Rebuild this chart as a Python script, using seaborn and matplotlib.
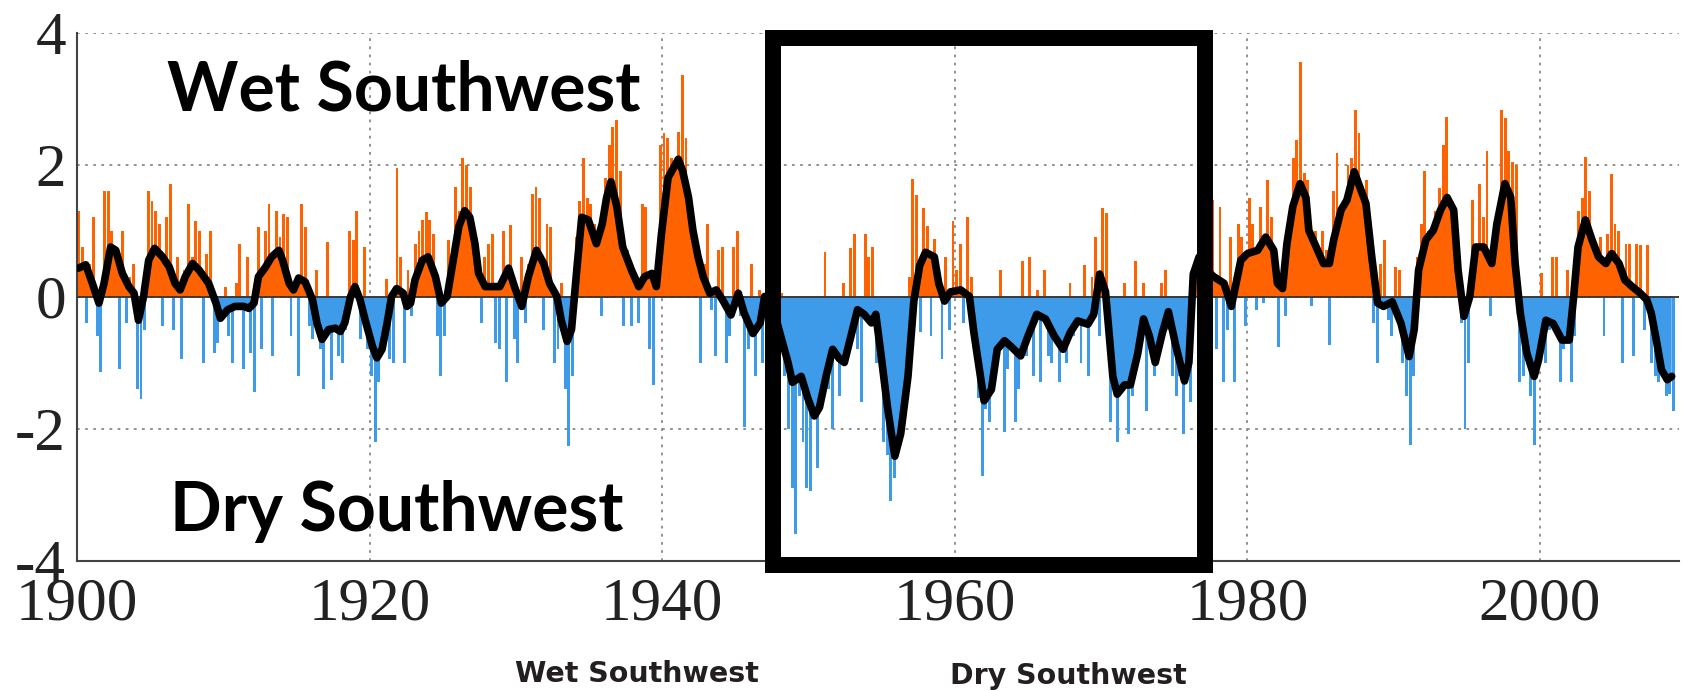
import numpy as np
import matplotlib
matplotlib.use("Agg")
import matplotlib.pyplot as plt
from matplotlib.patches import Rectangle
import seaborn as sns

# ---------------- data ----------------
# quarterly index values, 1900 Q1 onwards
bar_vals = [
    1.3, 0.75, -0.4, 0.5,     # 1900
    1.2, -0.6, -1.15, 1.6,    # 1901
    1.6, 1.0, 0.6, -1.1,      # 1902
    1.0, -0.4, 0.3, 0.5,      # 1903
    -1.4, -1.55, -0.5, 1.6,   # 1904
    1.45, 1.3, 1.1, -0.45,    # 1905
    1.2, 1.7, -0.5, 0.6,      # 1906
    -0.95, 0.4, 1.4, 0.6,     # 1907
    1.15, 1.0, -1.0, 0.65,    # 1908
    1.0, -0.85, -0.7, -0.2,   # 1909
    0.15, -0.6, -1.0, 0.2,    # 1910
    0.8, -1.1, 0.6, -0.85,    # 1911
    -1.45, 1.05, -0.8, 1.0,   # 1912
    1.4, -0.9, 1.3, 0.9,      # 1913
    1.25, 1.2, -0.6, 0.2,     # 1914
    -1.2, 1.4, 1.05, -0.45,   # 1915
    -0.65, 0.4, -0.8, -1.4,   # 1916
    0.83, -1.27, -0.5, -0.9,  # 1917
    -1.0, -0.5, 1.0, 0.86,    # 1918
    1.3, -0.65, 0.75, -0.8,   # 1919
    -1.2, -2.2, -1.3, -0.7,   # 1920
    0.27, -0.95, -1.0, 1.94,  # 1921
    0.6, -1.0, 0.4, -0.3,     # 1922
    0.8, 1.0, 1.16, 1.28,     # 1923
    1.16, 0.95, -0.6, -1.2,   # 1924
    -0.6, 0.86, 0.3, 1.66,    # 1925
    1.3, 2.1, 2.0, 1.66,      # 1926
    0.9, 0.7, -0.4, 0.6,      # 1927
    0.8, 0.95, -0.7, -0.8,    # 1928
    1.0, -1.3, 1.08, -0.65,   # 1929
    -1.0, 0.6, -0.4, 0.5,     # 1930
    1.56, 1.66, 1.5, -0.5,    # 1931
    1.1, 1.05, -1.0, -0.8,    # 1932
    0.2, -1.4, -2.27, -1.2,   # 1933
    0.9, 1.45, 2.1, 1.5,      # 1934
    1.4, 1.1, 0.5, -0.3,      # 1935
    1.8, 2.3, 2.57, 2.67,     # 1936
    1.9, -0.45, 0.7, -0.45,   # 1937
    0.35, -0.4, 1.4, 1.35,    # 1938
    -0.8, -1.34, 0.5, 2.3,    # 1939
    2.47, 2.4, 2.1, 1.6,      # 1940
    2.5, 3.35, 2.4, 1.1,      # 1941
    1.2, 0.9, -1.0, 0.5,      # 1942
    1.1, -0.2, -0.9, 0.7,     # 1943
    0.75, -1.0, -0.6, 0.75,   # 1944
    1.0, -0.3, -1.98, -0.8,   # 1945
    0.5, -1.2, 0.1, -1.0,     # 1946
    -0.6, 0.7, -0.2, 0.1,     # 1947
    0.05, -1.2, -2.0, -2.9,   # 1948
    -3.6, -1.5, -2.2, -2.9,   # 1949
    -2.95, -1.6, -2.6, -1.2,  # 1950
    0.67, -1.4, -2.0, -0.9,   # 1951
    -1.5, 0.2, -1.0, 0.74,    # 1952
    0.94, -0.8, -1.6, 0.94,   # 1953
    0.6, 0.75, -1.0, -0.5,    # 1954
    -2.2, -2.4, -3.1, -2.75,  # 1955
    -2.15, -1.5, -1.54, 0.3,  # 1956
    1.78, 1.54, -0.54, 1.34,  # 1957
    1.07, -0.6, 0.87, 0.4,    # 1958
    -0.94, 0.6, -0.5, 1.14,   # 1959
    0.4, 0.8, -0.4, 1.2,      # 1960
    0.3, -0.8, -1.54, -2.72,  # 1961
    -1.7, -1.9, -0.6, -1.1,   # 1962
    0.4, -2.05, -1.1, -0.6,   # 1963
    -1.9, -1.4, 0.54, -0.9,   # 1964
    0.6, -1.2, 0.1, -1.3,     # 1965
    0.4, -0.9, -1.0, -0.5,    # 1966
    -1.3, -0.6, -1.0, 0.2,    # 1967
    -0.6, -0.2, -1.0, 0.47,   # 1968
    -1.2, 0.3, 0.9, -0.6,     # 1969
    1.34, 1.27, -1.9, -1.0,   # 1970
    -2.2, -1.0, 0.2, -2.08,   # 1971
    -1.5, 0.54, -0.4, 0.2,    # 1972
    -1.74, -0.3, -1.2, -0.8,  # 1973
    0.2, 0.4, -0.5, -1.2,     # 1974
    -1.5, -1.2, -2.08, -0.8,  # 1975
    -1.6, 0.5, 1.27, 0.6,     # 1976
    0.3, 0.9, 1.46, -0.8,     # 1977
    1.36, -1.3, -0.5, 0.9,    # 1978
    -1.3, 1.1, 0.9, -0.45,    # 1979
    1.5, 1.1, -0.2, 1.36,     # 1980
    -0.1, 1.76, 1.2, 0.5,     # 1981
    -0.76, 0.4, -0.3, 1.0,    # 1982
    2.1, 2.37, 3.56, 1.87,    # 1983
    1.77, -0.15, 1.0, 0.3,    # 1984
    1.0, 0.7, -0.73, 1.6,     # 1985
    2.17, 0.8, 1.3, 2.0,      # 1986
    2.1, 2.83, 2.47, 1.5,     # 1987
    1.77, 1.0, -0.4, -1.0,    # 1988
    0.5, 0.85, -0.35, -0.6,   # 1989
    0.45, 0.4, -1.0, -1.5,    # 1990
    -2.25, -1.2, 0.6, 1.1,    # 1991
    1.9, 1.0, 0.5, 1.3,       # 1992
    1.65, 2.3, 2.72, 1.2,     # 1993
    1.25, 1.0, -0.4, -2.0,    # 1994
    -1.0, 1.46, 0.5, 1.7,     # 1995
    1.2, 2.2, -0.3, 1.1,      # 1996
    0.8, 2.83, 2.7, 2.2,      # 1997
    2.04, 2.0, -1.3, -1.2,    # 1998
    -0.9, -1.5, -2.25, -1.0,  # 1999
    0.35, -1.0, -0.5, 0.6,    # 2000
    0.6, -1.3, -0.8, 0.4,     # 2001
    -1.3, -0.6, 1.3, 1.5,     # 2002
    2.12, 1.6, 0.9, 0.2,      # 2003
    0.9, -0.6, 0.95, 1.86,    # 2004
    1.1, 1.0, -1.0, 0.8,      # 2005
    0.8, -0.9, 0.8, 0.78,     # 2006
    -0.5, 0.78, -1.0, -1.2,   # 2007
    -1.3, -1.0, -1.5, -1.47,  # 2008
    -1.74,                    # 2009
]

smooth_years = [
    1900.1, 1900.6, 1901.05, 1901.5, 1901.85, 1902.3, 1902.65, 1903.1, 1903.55, 1903.9,
    1904.2, 1904.55, 1904.9, 1905.3, 1905.85, 1906.3, 1906.7, 1907.05, 1907.4, 1907.9,
    1908.35, 1909.0, 1909.5, 1909.8, 1910.3, 1910.8, 1911.4, 1911.75, 1912.1, 1912.4,
    1912.9, 1913.3, 1913.8, 1914.05, 1914.5, 1914.8, 1915.15, 1915.6, 1916.1, 1916.4,
    1916.75, 1917.2, 1917.65, 1918.0, 1918.3, 1918.7, 1919.0, 1919.35, 1919.7, 1920.2,
    1920.5, 1920.85, 1921.2, 1921.5, 1921.85, 1922.3, 1922.55, 1922.8, 1923.1, 1923.6,
    1924.0, 1924.5, 1924.9, 1925.3, 1925.6, 1926.1, 1926.5, 1926.85, 1927.2, 1927.45,
    1927.9, 1928.5, 1928.9, 1929.5, 1929.9, 1930.4, 1930.85, 1931.4, 1931.9, 1932.3,
    1932.8, 1933.1, 1933.5, 1933.8, 1934.2, 1934.5, 1934.95, 1935.5, 1935.9, 1936.2,
    1936.5, 1936.9, 1937.3, 1937.9, 1938.4, 1938.8, 1939.3, 1939.6, 1939.95, 1940.4,
    1940.9, 1941.1, 1941.4, 1941.8, 1942.1, 1942.45, 1942.8, 1943.25, 1943.7, 1944.2,
    1944.7, 1945.2, 1945.6, 1946.2, 1946.7, 1947.0, 1947.5, 1948.1, 1948.6, 1948.9,
    1949.5, 1949.95, 1950.4, 1950.75, 1951.2, 1951.65, 1952.1, 1952.45, 1952.9, 1953.35,
    1953.8, 1954.3, 1954.6, 1954.95, 1955.4, 1955.9, 1956.3, 1956.8, 1957.2, 1957.6,
    1958.0, 1958.6, 1958.9, 1959.3, 1959.7, 1960.4, 1961.0, 1961.3, 1961.7, 1962.0,
    1962.5, 1962.9, 1963.4, 1963.9, 1964.5, 1965.0, 1965.6, 1966.2, 1966.8, 1967.4,
    1967.9, 1968.4, 1969.1, 1969.5, 1969.9, 1970.3, 1970.8, 1971.1, 1971.6, 1972.0,
    1972.5, 1972.9, 1973.3, 1973.7, 1974.2, 1974.6, 1975.1, 1975.7, 1976.0, 1976.3,
    1976.7, 1977.2, 1977.7, 1978.4, 1978.9, 1979.55, 1980.0, 1980.7, 1981.25, 1981.8,
    1982.05, 1982.4, 1982.7, 1983.1, 1983.6, 1984.0, 1984.2, 1984.8, 1985.2, 1985.6,
    1985.9, 1986.4, 1986.8, 1987.3, 1987.6, 1988.1, 1988.5, 1988.9, 1989.3, 1989.9,
    1990.5, 1991.05, 1991.4, 1991.7, 1992.2, 1992.7, 1993.2, 1993.65, 1994.1, 1994.4,
    1994.8, 1995.2, 1995.6, 1996.15, 1996.7, 1997.05, 1997.6, 1998.0, 1998.3, 1998.65,
    1999.1, 1999.6, 1999.9, 2000.4, 2000.9, 2001.5, 2002.0, 2002.3, 2002.6, 2003.1,
    2003.55, 2004.0, 2004.5, 2004.9, 2005.4, 2005.8, 2006.3, 2006.85, 2007.3, 2007.6,
    2007.95, 2008.3, 2008.7, 2009.0,
]
smooth_vals = [
    0.43, 0.48, 0.2, -0.1, 0.2, 0.75, 0.7, 0.35, 0.15, 0.05,
    -0.36, 0.0, 0.55, 0.73, 0.6, 0.45, 0.2, 0.1, 0.3, 0.5,
    0.4, 0.2, -0.1, -0.33, -0.2, -0.15, -0.15, -0.18, -0.1, 0.3,
    0.45, 0.6, 0.7, 0.55, 0.2, 0.1, 0.28, 0.22, -0.05, -0.4,
    -0.65, -0.5, -0.48, -0.53, -0.4, 0.0, 0.15, -0.05, -0.36, -0.76,
    -0.93, -0.8, -0.4, 0.0, 0.12, 0.05, -0.15, -0.1, 0.25, 0.55,
    0.6, 0.3, -0.1, 0.0, 0.4, 1.06, 1.3, 1.2, 0.8, 0.35,
    0.15, 0.15, 0.15, 0.43, 0.15, -0.15, 0.3, 0.7, 0.5, 0.2,
    0.0, -0.36, -0.68, -0.5, 0.5, 1.2, 1.16, 0.8, 1.1, 1.5,
    1.74, 1.36, 0.75, 0.4, 0.15, 0.3, 0.35, 0.15, 0.95, 1.8,
    2.0, 2.08, 1.9, 1.5, 1.0, 0.6, 0.3, 0.05, 0.1, -0.08,
    -0.28, 0.05, -0.25, -0.56, -0.4, 0.0, -0.1, -0.6, -1.0, -1.3,
    -1.21, -1.54, -1.81, -1.68, -1.21, -0.8, -0.94, -1.0, -0.6, -0.2,
    -0.27, -0.4, -0.27, -0.87, -1.68, -2.42, -2.08, -1.21, -0.07, 0.47,
    0.67, 0.6, 0.2, -0.07, 0.07, 0.1, 0.0, -0.54, -1.14, -1.58,
    -1.41, -0.8, -0.67, -0.77, -0.9, -0.6, -0.27, -0.34, -0.6, -0.8,
    -0.54, -0.37, -0.42, -0.27, 0.34, 0.07, -1.21, -1.48, -1.34, -1.34,
    -0.87, -0.34, -0.6, -1.0, -0.54, -0.23, -0.74, -1.28, -1.0, 0.34,
    0.6, 0.4, 0.3, 0.2, -0.15, 0.55, 0.65, 0.7, 0.9, 0.7,
    0.2, 0.12, 0.8, 1.36, 1.71, 1.5, 1.0, 0.7, 0.5, 0.5,
    0.86, 1.31, 1.46, 1.89, 1.71, 1.41, 0.6, -0.1, -0.15, -0.08,
    -0.41, -0.91, -0.5, 0.4, 0.86, 1.0, 1.31, 1.5, 1.31, 0.4,
    -0.3, 0.0, 0.75, 0.75, 0.5, 1.1, 1.71, 1.5, 0.5, -0.25,
    -0.86, -1.21, -0.96, -0.36, -0.41, -0.66, -0.66, 0.0, 0.75, 1.16,
    0.86, 0.6, 0.5, 0.65, 0.5, 0.25, 0.15, 0.05, -0.05, -0.25,
    -0.66, -1.11, -1.26, -1.21,
]

x_ticks = [1900, 1920, 1940, 1960, 1980, 2000]
y_ticks = [-4, -2, 0, 2, 4]
label_top = "Wet Southwest"
label_bottom = "Dry Southwest"
note_left = "Wet Southwest"
note_right = "Dry Southwest"
box_years = (1947.6, 1977.07)

# ---------------- styling ----------------
sns.set_style("white")
plt.rcParams["axes.unicode_minus"] = False
plt.rcParams["font.family"] = ["Liberation Serif", "DejaVu Serif"]

ORANGE = "#FF6200"
BLUE = "#3D9BEA"

W, H = 1684, 691
fig = plt.figure(figsize=(W / 100, H / 100), dpi=100)
left_px, right_px, top_px, bot_px = 77, 1679, 32.5, 560.5
ax = fig.add_axes([left_px / W, 1 - bot_px / H, (right_px - left_px) / W, (bot_px - top_px) / H])

bar_vals_a = np.array(bar_vals)
bar_x = 1900 + 0.125 + 0.25 * np.arange(len(bar_vals_a))
bar_colors = [ORANGE if v >= 0 else BLUE for v in bar_vals_a]
ax.bar(bar_x, bar_vals_a, width=0.2, color=bar_colors, linewidth=0, zorder=2)

sy = np.array(smooth_years)
sv = np.array(smooth_vals)
ax.fill_between(sy, 0, sv, where=sv >= 0, interpolate=True, color=ORANGE, linewidth=0, zorder=2)
ax.fill_between(sy, 0, sv, where=sv <= 0, interpolate=True, color=BLUE, linewidth=0, zorder=2)

ax.axhline(0, color="#333333", lw=1.3, zorder=3)
sns.lineplot(x=sy, y=sv, ax=ax, color="black", lw=5.5, sort=False, estimator=None, zorder=4)

ax.set_xlim(1900, 2009.5)
ax.set_ylim(-4, 4)
ax.set_xticks(x_ticks)
ax.set_yticks(y_ticks)
ax.set_xticklabels([str(t) for t in x_ticks])
ax.set_yticklabels([str(t) for t in y_ticks])
ax.tick_params(axis="both", direction="in", labelsize=44, colors="#222222", width=1.5)
ax.tick_params(axis="x", length=9, pad=12)
ax.tick_params(axis="y", length=11, pad=8)

ax.grid(True, color="#888888", lw=1.3, ls=(0, (1.5, 3)), zorder=1)
for s in ["top", "right"]:
    ax.spines[s].set_visible(False)
for s in ["left", "bottom"]:
    ax.spines[s].set_color("#444444")
    ax.spines[s].set_linewidth(1.5)

rect = Rectangle((box_years[0], -4.07), box_years[1] - box_years[0], 3.92 + 4.07,
                 fill=False, edgecolor="black", linewidth=11.5, joinstyle="miter",
                 clip_on=False, zorder=6)
ax.add_patch(rect)

big = dict(family=["Lato", "DejaVu Sans"], fontweight="bold", fontsize=49, color="black")
fig.text(167 / W, 1 - 110.6 / H, label_top, ha="left", va="baseline", **big)
fig.text(170 / W, 1 - 531 / H, label_bottom, ha="left", va="baseline", **big)

small = dict(family=["DejaVu Sans"], fontweight="bold", fontsize=20.5, color="#231f20")
fig.text(515 / W, 1 - 682 / H, note_left, ha="left", va="baseline", **small)
fig.text(950 / W, 1 - 684 / H, note_right, ha="left", va="baseline", **small)

fig.savefig("out.png", dpi=100)
